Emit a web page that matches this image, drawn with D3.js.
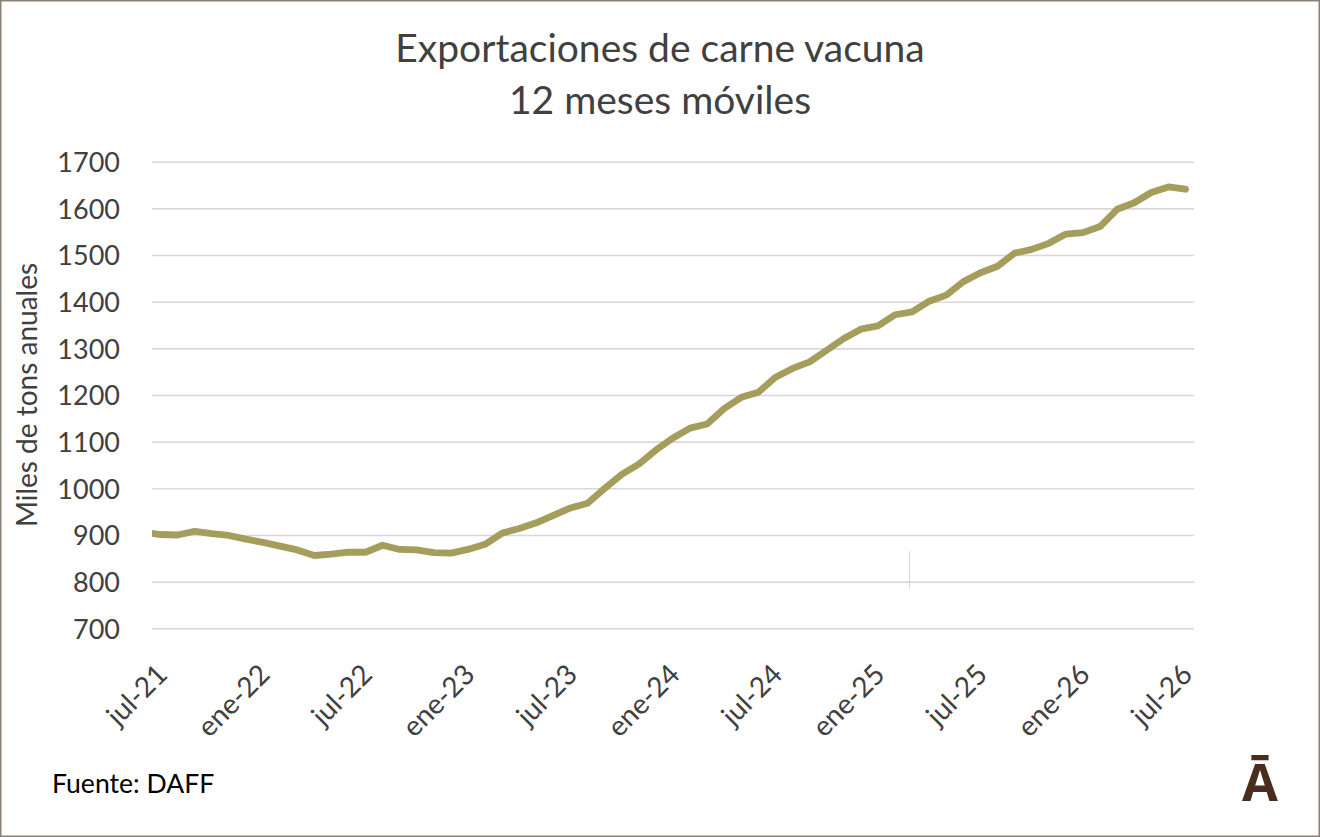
<!DOCTYPE html>
<html>
<head>
<meta charset="utf-8">
<script src="https://cdn.jsdelivr.net/npm/d3@7"></script>
<style>
  html, body { margin: 0; padding: 0; background: #ffffff; }
  svg { display: block; }
</style>
</head>
<body>
<svg id="chart" width="1320" height="837"></svg>
<script>
// ---- data ----
const months = [
  "jul-21","ago-21","sep-21","oct-21","nov-21","dic-21",
  "ene-22","feb-22","mar-22","abr-22","may-22","jun-22","jul-22","ago-22","sep-22","oct-22","nov-22","dic-22",
  "ene-23","feb-23","mar-23","abr-23","may-23","jun-23","jul-23","ago-23","sep-23","oct-23","nov-23","dic-23",
  "ene-24","feb-24","mar-24","abr-24","may-24","jun-24","jul-24","ago-24","sep-24","oct-24","nov-24","dic-24",
  "ene-25","feb-25","mar-25","abr-25","may-25","jun-25","jul-25","ago-25","sep-25","oct-25","nov-25","dic-25",
  "ene-26","feb-26","mar-26","abr-26","may-26","jun-26","jul-26"
];
const exports12m = [
  901, 900, 908, 903, 899, 891,
  884, 876, 868, 856, 859, 863, 863, 878, 869, 868, 862, 861,
  869, 880, 904, 914, 926, 942, 958, 968, 1000, 1030, 1052, 1082,
  1108, 1129, 1138, 1171, 1195, 1206, 1238, 1257, 1271, 1296, 1321, 1341,
  1348, 1372, 1378, 1401, 1414, 1443, 1462, 1476, 1504, 1512, 1525, 1545,
  1548, 1561, 1598, 1612, 1634, 1646, 1641
];
// value of the month before the first shown (jun-21), clipped at the plot edge
const priorMonth = "jun-21";
const priorValue = 906;
const xTickLabels = ["jul-21","ene-22","jul-22","ene-23","jul-23","ene-24","jul-24","ene-25","jul-25","ene-26","jul-26"];
const yTickValues = [700, 800, 900, 1000, 1100, 1200, 1300, 1400, 1500, 1600, 1700];
const titleLines = ["Exportaciones de carne vacuna", "12 meses móviles"];
const yAxisTitle = "Miles de tons anuales";
const sourceText = "Fuente: DAFF";

// ---- layout ----
const svg = d3.select("#chart");
const W = 1320, H = 837;
const plot = { left: 152, right: 1194, top: 161.7, bottom: 628.3 };
const FONT = "Lato, 'Open Sans', sans-serif";

// border
svg.append("rect")
  .attr("x", 0.75).attr("y", 0.75)
  .attr("width", W - 1.5).attr("height", H - 1.5)
  .attr("fill", "#ffffff")
  .attr("stroke", "#8b8178").attr("stroke-width", 1.5);

// scales
const x = d3.scaleLinear().domain([-0.5, months.length - 0.5]).range([plot.left, plot.right]);
const y = d3.scaleLinear().domain([700, 1700]).range([plot.bottom, plot.top]);

// gridlines + y tick labels
const yAxis = d3.axisLeft(y).tickValues(yTickValues).tickSize(0).tickPadding(0).tickFormat(d3.format("d"));
const gy = svg.append("g").attr("transform", `translate(${plot.left},0)`).call(yAxis);
gy.select(".domain").remove();
gy.selectAll(".tick line").remove();
gy.selectAll(".tick")
  .append("line")
  .attr("x1", 0).attr("x2", plot.right - plot.left)
  .attr("stroke", "#dcd6d6").attr("stroke-width", 1.6);
gy.selectAll(".tick text")
  .attr("x", 120 - plot.left)
  .attr("dy", "0.36em")
  .attr("fill", "#404040")
  .style("font-family", FONT)
  .style("font-size", "27px");

// x tick labels (rotated)
const xIndex = d => months.indexOf(d);
const xAxis = d3.axisBottom(x).tickValues(xTickLabels.map(xIndex)).tickSize(0).tickFormat(i => months[i]);
const gx = svg.append("g").attr("transform", `translate(0,${plot.bottom})`).call(xAxis);
gx.select(".domain").remove();
gx.selectAll(".tick text")
  .attr("text-anchor", "end")
  .attr("fill", "#404040")
  .attr("y", 0)
  .attr("dy", "0.35em")
  .attr("transform", "translate(1,41) rotate(-45)")
  .style("font-family", FONT)
  .style("font-size", "28px");

// faint vertical mark present in the reference
svg.append("line")
  .attr("x1", 909.5).attr("x2", 909.5)
  .attr("y1", 551).attr("y2", 589)
  .attr("stroke", "#d8d8d8").attr("stroke-width", 1);

// clip
svg.append("clipPath").attr("id", "plotclip")
  .append("rect")
  .attr("x", plot.left).attr("y", 0)
  .attr("width", plot.right - plot.left).attr("height", H);

// line
const series = [{ i: -1, v: priorValue, m: priorMonth }]
  .concat(exports12m.map((v, i) => ({ i, v, m: months[i] })));
const line = d3.line().x(d => x(d.i)).y(d => y(d.v));
svg.append("path")
  .datum(series)
  .attr("clip-path", "url(#plotclip)")
  .attr("d", line)
  .attr("fill", "none")
  .attr("stroke", "#a59d5c")
  .attr("stroke-width", 6.8)
  .attr("stroke-linejoin", "round")
  .attr("stroke-linecap", "round");

// title
svg.append("text")
  .attr("x", 660).attr("y", 62)
  .attr("text-anchor", "middle")
  .attr("fill", "#404040")
  .style("font-family", FONT)
  .style("font-size", "39px")
  .text(titleLines[0]);
svg.append("text")
  .attr("x", 660).attr("y", 114)
  .attr("text-anchor", "middle")
  .attr("fill", "#404040")
  .style("font-family", FONT)
  .style("font-size", "39px")
  .text(titleLines[1]);

// y axis title
svg.append("text")
  .attr("transform", "translate(37,395) rotate(-90)")
  .attr("text-anchor", "middle")
  .attr("fill", "#404040")
  .style("font-family", FONT)
  .style("font-size", "28px")
  .text(yAxisTitle);

// source
svg.append("text")
  .attr("x", 52).attr("y", 793)
  .attr("fill", "#000000")
  .style("font-family", FONT)
  .style("font-size", "26.6px")
  .text(sourceText);

// logo
svg.append("text")
  .attr("x", 1260).attr("y", 801)
  .attr("text-anchor", "middle")
  .attr("fill", "#4a2e1d")
  .style("font-family", "'Open Sans', Lato, sans-serif")
  .style("font-weight", "bold")
  .style("font-size", "52px")
  .text("Ā");
</script>
</body>
</html>
